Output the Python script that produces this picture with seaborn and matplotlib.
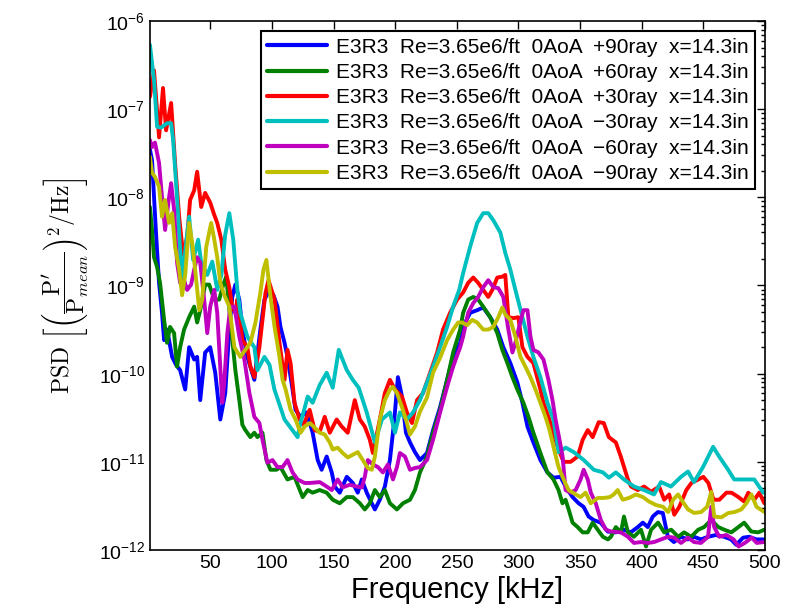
import numpy as np
import pandas as pd
import matplotlib
matplotlib.use("Agg")
import matplotlib.pyplot as plt
import seaborn as sns
from matplotlib.ticker import FixedLocator, NullFormatter, LogFormatterSciNotation

# Frequency [kHz] and log10(PSD) for each ray
f_p90 = [1, 2.7, 5.9, 8.4, 10.8, 12.5, 14.9, 19, 22.2, 25.5, 29.6, 32.8, 36.9, 39.3, 41.8, 45.8, 49.9, 54, 58.1, 62.1,
         65.4, 67.8, 70.3, 73.5, 76, 80, 85.7, 90.6, 93.9, 98, 101.2, 104.5, 106.9, 110.2, 112.6, 116.7, 119.1, 123.2,
         128.1, 133, 137.1, 140.3, 144.4, 148.5, 150.9, 155, 160.7, 165.6, 169.6, 172.9, 176.9, 181, 183.5, 187.5,
         191.6, 195.7, 199, 202.2, 205.5, 208.7, 212, 216, 220.1, 225.8, 230.7, 236.4, 242.1, 247, 252.7, 256.8, 260.8,
         266.5, 271.4, 277.1, 282.8, 287.7, 293.4, 299.1, 303.2, 307.3, 312.1, 317.8, 323.5, 328.4, 334.1, 338.2, 343.9,
         348.8, 352.8, 356.9, 361, 366.7, 372.4, 378.9, 385.4, 391.1, 396.8, 400.9, 404.9, 409, 413.1, 417.1, 421.2,
         426.1, 431.8, 437.5, 442.4, 448.1, 453.8, 460.3, 466.8, 472.5, 476.6, 482.3, 487.2, 492.9, 498.6]
lg_p90 = [-7.46, -7.58, -8.40, -8.97, -9.31, -9.62, -9.50, -9.81, -9.90, -9.96, -10.18, -9.70, -9.84, -9.81, -10.30,
          -9.76, -9.70, -9.99, -10.52, -10.22, -9.50, -9.13, -8.99, -9.16, -9.50, -9.81, -10.07, -9.50, -9.16, -9.05,
          -9.11, -9.24, -9.47, -9.65, -9.81, -10.18, -10.41, -10.49, -10.44, -10.67, -10.98, -11.09, -10.94, -11.12,
          -11.28, -11.35, -11.17, -11.24, -11.35, -11.20, -11.35, -11.47, -11.54, -11.43, -11.28, -10.98, -10.56,
          -10.04, -10.26, -10.67, -10.78, -10.89, -10.98, -10.90, -10.64, -10.38, -10.07, -9.81, -9.65, -9.42, -9.31,
          -9.28, -9.25, -9.36, -9.50, -9.70, -9.88, -10.10, -10.33, -10.60, -10.78, -10.98, -11.12, -11.18, -11.17,
          -11.28, -11.40, -11.47, -11.51, -11.62, -11.66, -11.69, -11.79, -11.80, -11.77, -11.80, -11.74, -11.69,
          -11.74, -11.62, -11.57, -11.58, -11.85, -11.91, -11.85, -11.88, -11.85, -11.88, -11.85, -11.83, -11.85,
          -11.88, -11.94, -11.86, -11.85, -11.88, -11.88]

f_p60 = [1, 2.7, 4.3, 6.8, 9.2, 12.5, 14.9, 17.3, 20.6, 23, 25.5, 28.7, 32.8, 36.9, 39.3, 41.8, 45.8, 49.1, 53.2, 57.2,
         60.5, 62.9, 67, 70.3, 73.5, 76, 78.4, 82.5, 85.7, 88.2, 92.3, 95.5, 98.8, 103.7, 106.9, 112.6, 118.3, 124.9,
         129, 133, 138.7, 144.4, 149.3, 155, 160.7, 165.6, 171.3, 175.3, 179.4, 183.5, 187.5, 191.6, 195.7, 201.4,
         206.3, 212, 216, 220.1, 225.8, 230.7, 236.4, 242.1, 247, 252.7, 255.1, 259.2, 263.3, 267.3, 271.4, 277.1,
         282.8, 286.9, 291, 295.1, 299.1, 304, 308.1, 312.1, 317.8, 323.5, 328.4, 332.5, 335.7, 338.2, 340.7, 343.9,
         348, 352.1, 356.2, 360.2, 364.3, 368.5, 372.6, 375, 379, 383.1, 385.6, 388.8, 393.7, 399.4, 403.5, 407.6,
         413.3, 418.2, 423.9, 429.6, 434.4, 440.1, 445.8, 450.6, 456.4, 462.1, 467, 472.7, 478.4, 483.1, 488.8, 494.5,
         499.4]
lg_p60 = [-8.11, -8.37, -8.68, -8.79, -8.97, -9.39, -9.65, -9.47, -9.54, -9.92, -9.70, -9.50, -9.36, -9.24, -9.42,
          -9.28, -8.99, -8.99, -9.16, -9.16, -8.99, -8.90, -9.50, -9.96, -10.30, -10.58, -10.64, -10.72, -10.67,
          -10.72, -10.67, -10.98, -11.09, -11.09, -11.06, -11.20, -11.17, -11.40, -11.32, -11.35, -11.32, -11.35,
          -11.43, -11.47, -11.40, -11.40, -11.47, -11.54, -11.47, -11.32, -11.40, -11.32, -11.47, -11.54, -11.47,
          -11.43, -11.32, -11.12, -10.94, -10.67, -10.41, -10.07, -9.76, -9.50, -9.31, -9.16, -9.13, -9.16, -9.24,
          -9.36, -9.54, -9.73, -9.88, -10.04, -10.18, -10.33, -10.49, -10.67, -10.90, -11.12, -11.20, -11.32, -11.47,
          -11.43, -11.54, -11.69, -11.74, -11.80, -11.80, -11.69, -11.77, -11.85, -11.88, -11.85, -11.74, -11.80,
          -11.62, -11.80, -11.85, -11.77, -11.96, -11.77, -11.69, -11.80, -11.77, -11.85, -11.80, -11.85, -11.77,
          -11.74, -11.66, -11.74, -11.77, -11.80, -11.74, -11.69, -11.79, -11.80, -11.77]

f_p30 = [1, 4.3, 8.4, 11.6, 14.1, 18.2, 21.4, 24.7, 27.9, 31.2, 33.6, 36.9, 39.3, 42.6, 45.8, 49.9, 53.2, 55.6, 58.9,
         62.1, 65.4, 67.8, 70.3, 71.9, 76, 80, 82.5, 85.7, 89.8, 92.3, 94.7, 97.2, 102.1, 106.1, 110.2, 112.6, 115.1,
         118.3, 122.4, 125.7, 130.6, 134.6, 138.7, 142.8, 146.9, 152.5, 156.6, 161.5, 167.2, 171.3, 175.3, 179.4,
         181.9, 187.5, 191.6, 195.7, 199.8, 205.5, 209.5, 213.6, 217.7, 222.6, 228.3, 234, 238.8, 244.5, 250.2, 255.1,
         259.2, 263.3, 267.3, 271.4, 275.5, 278.8, 282.8, 286.9, 289.3, 291.8, 295.9, 299.9, 303.2, 307.3, 312.1,
         317.8, 320.3, 326, 331.7, 336.6, 342.3, 348, 352.1, 356.2, 360.2, 365.1, 369.2, 373.3, 379, 383, 388.8,
         391.3, 396.9, 401.9, 407.6, 414.1, 418.2, 422.3, 426.4, 430.5, 436.2, 440.3, 445.9, 450, 454.1, 458.2, 463,
         468.7, 472.8, 478.5, 483.1, 486.5, 491.3, 495.4, 499.5]
lg_p30 = [-6.86, -6.56, -7.32, -6.76, -7.24, -6.93, -7.61, -8.22, -8.65, -8.45, -8.03, -7.92, -7.71, -8.11, -7.95,
          -8.06, -8.20, -8.29, -8.48, -8.82, -9.02, -9.24, -9.31, -9.16, -9.62, -9.70, -9.92, -10.04, -9.70, -9.39,
          -9.09, -8.94, -9.16, -9.65, -10.07, -9.73, -9.88, -10.33, -10.52, -10.58, -10.41, -10.64, -10.66, -10.49,
          -10.67, -10.52, -10.60, -10.67, -10.30, -10.52, -10.60, -10.75, -10.90, -10.52, -10.22, -10.07, -10.18,
          -10.26, -10.44, -10.56, -10.30, -10.22, -9.99, -9.76, -9.50, -9.31, -9.16, -9.08, -8.97, -8.91, -8.97,
          -9.05, -9.13, -9.05, -8.91, -8.90, -8.88, -9.36, -9.37, -9.36, -9.70, -9.81, -9.88, -10.18, -10.33, -10.56,
          -10.83, -11.00, -11.00, -10.94, -10.75, -10.64, -10.72, -10.55, -10.56, -10.72, -10.78, -10.94, -11.20,
          -11.28, -11.32, -11.28, -11.34, -11.28, -11.43, -11.37, -11.60, -11.51, -11.32, -11.24, -11.20, -11.17,
          -11.24, -11.43, -11.43, -11.35, -11.35, -11.40, -11.45, -11.35, -11.43, -11.35, -11.47]

f_m30 = [1, 4.3, 6.8, 10, 14.9, 18.2, 19.8, 23, 27.1, 30, 32.8, 36.1, 40.1, 42.6, 47.5, 51.6, 55.6, 59, 62, 65.4, 68.6,
         71.9, 74.3, 80, 85.7, 88.2, 93.9, 98, 102, 110.2, 120.8, 122.4, 129, 133, 138.7, 144.4, 149.3, 154.2, 160.7,
         165.6, 170.4, 176.9, 183.5, 189.2, 195.7, 199.8, 203.8, 209.5, 214.4, 220.1, 225.8, 230.7, 236.4, 242.1, 247,
         251.9, 255.1, 260.8, 266.5, 271.4, 275.5, 279.6, 285.3, 289.3, 293.4, 297.5, 303.2, 307.3, 312.1, 317.8,
         323.5, 328.4, 332.5, 338.4, 344.9, 353, 361.1, 368.5, 373.4, 379, 385.6, 393.7, 401.9, 410, 415.6, 423.7,
         431.9, 437.6, 442.4, 449.7, 457.9, 462.8, 470.1, 475, 483.1, 491.3, 498.6]
lg_m30 = [-6.27, -6.67, -7.20, -7.21, -7.16, -7.16, -7.35, -8.00, -8.97, -8.56, -8.22, -8.71, -8.48, -8.74, -8.88,
          -8.73, -9.05, -8.88, -8.43, -8.18, -8.48, -9.05, -9.31, -9.58, -9.70, -9.96, -9.81, -9.90, -10.18, -10.52,
          -10.72, -10.60, -10.26, -10.33, -10.13, -9.99, -10.16, -9.73, -9.96, -10.07, -10.16, -10.44, -10.78, -10.52,
          -10.44, -10.67, -10.44, -10.52, -10.44, -10.30, -10.10, -9.92, -9.70, -9.47, -9.24, -9.05, -8.86, -8.56,
          -8.29, -8.18, -8.18, -8.26, -8.40, -8.63, -8.82, -9.05, -9.36, -9.58, -9.81, -10.04, -10.33, -10.52, -10.89,
          -10.84, -10.89, -10.98, -11.09, -11.12, -11.18, -11.12, -11.20, -11.28, -11.32, -11.37, -11.23, -11.28,
          -11.17, -11.11, -11.23, -11.06, -10.83, -10.94, -11.09, -11.20, -11.20, -11.20, -11.35]

f_m60 = [1, 2.7, 5.1, 8.4, 10.8, 13.3, 16.5, 18.2, 20.6, 23, 25.5, 28.7, 31.2, 34.4, 36.9, 39.3, 41.8, 45, 47.5, 49.9,
         53.2, 55.6, 59.7, 61.3, 63.8, 66.2, 69.5, 73.5, 77.6, 81.7, 85.7, 89.8, 92.3, 96.3, 100.4, 104.5, 108.6,
         112.6, 116.7, 120.8, 126.5, 130.6, 138.7, 144.4, 148.5, 153.3, 157.4, 163.1, 168.8, 172.9, 175.3, 177.8,
         181.9, 186, 190, 194.1, 198.2, 201.4, 203.8, 207.9, 212, 216, 220.1, 225.8, 230.7, 236.4, 242.1, 247, 252.7,
         255.1, 259.2, 263.3, 267.3, 271.4, 275.5, 279.6, 283.6, 287.7, 291.8, 295.1, 297.5, 300, 304, 307.3, 309.7,
         312.1, 316.2, 320.3, 324.3, 327.6, 330.1, 333.3, 335.8, 338.2, 342.3, 346.4, 350.4, 352.9, 356.2, 358.7,
         362.7, 366.8, 370.9, 375, 383.1, 388.8, 393.7, 399.4, 405.1, 410, 415.7, 421.4, 426.3, 431.9, 437.6, 442.4,
         448.1, 453.8, 456.4, 458.8, 462.9, 468.6, 474.5, 478.6, 483.6, 489.3, 493.3, 499]
lg_m60 = [-7.35, -7.43, -7.38, -7.61, -8.00, -8.37, -8.00, -7.84, -8.14, -8.74, -8.97, -8.94, -9.05, -8.99, -8.82,
          -8.68, -8.74, -9.16, -9.54, -9.24, -9.05, -9.31, -10.33, -10.10, -9.54, -9.24, -9.24, -9.58, -9.84, -10.22,
          -10.49, -10.56, -10.75, -11.01, -10.98, -11.06, -11.06, -10.98, -11.12, -11.20, -11.24, -11.24, -11.23,
          -11.28, -11.32, -11.20, -11.29, -11.26, -11.28, -11.29, -11.17, -10.98, -11.03, -11.06, -11.12, -11.03,
          -11.20, -11.06, -10.90, -10.94, -11.09, -11.07, -11.06, -10.98, -10.75, -10.44, -10.15, -9.92, -9.70, -9.58,
          -9.31, -9.20, -9.13, -9.02, -8.94, -9.02, -9.03, -9.13, -9.50, -9.76, -9.65, -9.50, -9.28, -9.28, -9.58,
          -9.73, -9.76, -9.84, -10.07, -10.30, -10.52, -10.75, -10.94, -11.32, -11.35, -11.32, -11.20, -11.09, -11.20,
          -11.35, -11.47, -11.66, -11.77, -11.79, -11.80, -11.85, -11.92, -11.91, -11.92, -11.91, -11.88, -11.85,
          -11.86, -11.92, -11.86, -11.91, -11.92, -11.85, -11.51, -11.74, -11.85, -11.83, -11.88, -11.96, -11.92,
          -11.86, -11.92, -11.91]

f_m90 = [1, 2.7, 5.1, 8.4, 10.8, 13.3, 16.5, 19, 21.4, 24.7, 27.1, 29.6, 32.8, 35.3, 37.7, 41, 43.4, 46.7, 50.7, 53.2,
         55.6, 58.1, 61.3, 65.4, 69.5, 74.3, 78.4, 82.5, 86.6, 90.6, 93.1, 95.5, 98.8, 102.1, 106.1, 108.6, 111.1,
         115.1, 119.1, 123.2, 126.5, 130.6, 134.6, 138.7, 142.8, 146.9, 149.3, 153.3, 157.4, 161.5, 165.6, 169.6,
         173.7, 177.8, 181, 183.5, 187.5, 191.6, 195.7, 198.1, 201.4, 205.5, 208.7, 212, 216, 220.1, 225.8, 230.7,
         236.4, 242.1, 247, 251.1, 254.3, 258.4, 262.5, 266.5, 271.4, 275.5, 279.6, 283.6, 286.9, 289.3, 293.4, 297.5,
         301.6, 305.6, 309.7, 313.8, 317.8, 321.9, 325.2, 328.4, 332.5, 336.6, 340.7, 346.4, 350.4, 354.5, 358.6,
         364.3, 369.2, 374.1, 377.3, 380.5, 384.6, 389.6, 395.3, 401, 405.9, 411.6, 417.3, 421.4, 425.4, 429.5, 433.6,
         437.6, 442.5, 448.2, 453.1, 456.4, 458.8, 464.6, 470.3, 475.1, 480.8, 484.9, 489, 493.1, 499.6]
lg_m90 = [-7.54, -7.72, -7.77, -7.88, -8.22, -8.03, -8.29, -8.18, -8.56, -8.82, -9.11, -8.88, -8.29, -8.52, -8.82,
          -9.28, -9.16, -8.56, -8.29, -8.48, -8.68, -8.97, -9.11, -9.24, -9.70, -9.81, -9.73, -9.65, -9.42, -9.08,
          -8.82, -8.71, -9.13, -9.47, -9.81, -10.07, -10.18, -10.41, -10.52, -10.67, -10.60, -10.56, -10.61, -10.67,
          -10.69, -10.78, -10.86, -10.84, -10.90, -10.95, -10.92, -10.89, -10.98, -11.07, -11.09, -10.94, -10.52,
          -10.30, -10.18, -10.15, -10.22, -10.38, -10.52, -10.69, -10.60, -10.43, -10.27, -9.99, -9.82, -9.62, -9.50,
          -9.42, -9.42, -9.45, -9.39, -9.42, -9.50, -9.50, -9.47, -9.36, -9.25, -9.33, -9.39, -9.58, -9.81, -9.92,
          -10.04, -10.18, -10.33, -10.49, -10.64, -10.83, -11.06, -11.20, -11.32, -11.37, -11.40, -11.35, -11.47,
          -11.41, -11.41, -11.40, -11.37, -11.32, -11.43, -11.41, -11.37, -11.40, -11.45, -11.49, -11.51, -11.57,
          -11.43, -11.37, -11.46, -11.54, -11.58, -11.57, -11.51, -11.34, -11.62, -11.63, -11.58, -11.57, -11.54,
          -11.47, -11.37, -11.51, -11.57]

labels = [
    "E3R3  Re=3.65e6/ft  0AoA  +90ray  x=14.3in",
    "E3R3  Re=3.65e6/ft  0AoA  +60ray  x=14.3in",
    "E3R3  Re=3.65e6/ft  0AoA  +30ray  x=14.3in",
    "E3R3  Re=3.65e6/ft  0AoA  \u221230ray  x=14.3in",
    "E3R3  Re=3.65e6/ft  0AoA  \u221260ray  x=14.3in",
    "E3R3  Re=3.65e6/ft  0AoA  \u221290ray  x=14.3in",
]
freqs = [f_p90, f_p60, f_p30, f_m30, f_m60, f_m90]
logs = [lg_p90, lg_p60, lg_p30, lg_m30, lg_m60, lg_m90]
colors = ["#0000ff", "#008000", "#ff0000", "#00bfbf", "#bf00bf", "#bfbf00"]

frames = []
for lab, f, lg in zip(labels, freqs, logs):
    frames.append(pd.DataFrame({"freq": f, "psd": np.power(10.0, lg), "series": lab}))
df = pd.concat(frames, ignore_index=True)

sns.set_theme(style="white")
plt.rcParams["font.family"] = ["Liberation Sans", "DejaVu Sans"]
plt.rcParams["mathtext.fontset"] = "cm"
for key in ["text.color", "axes.labelcolor", "xtick.color", "ytick.color", "axes.edgecolor"]:
    plt.rcParams[key] = "black"

fig = plt.figure(figsize=(7.85, 6.15), dpi=100)
ax = fig.add_axes([0.191, 0.1057, 0.7835, 0.8602])

sns.lineplot(data=df, x="freq", y="psd", hue="series", hue_order=labels, palette=colors,
             sort=False, estimator=None, linewidth=2.8, ax=ax)

ax.set_yscale("log")
ax.set_xlim(1, 500)
ax.set_ylim(1e-12, 1e-6)
ax.set_xticks(np.arange(50, 501, 50))

decades = np.arange(-12, -5)
ax.yaxis.set_major_locator(FixedLocator(10.0 ** decades))
ax.yaxis.set_major_formatter(LogFormatterSciNotation())
minor = [m * 10.0 ** d for d in decades[:-1] for m in range(2, 10)]
ax.yaxis.set_minor_locator(FixedLocator(minor))
ax.yaxis.set_minor_formatter(NullFormatter())

ax.tick_params(which="both", direction="in", top=True, right=True, labelsize=14, width=1.0)
ax.tick_params(which="major", length=6)
ax.tick_params(which="minor", length=3)
for sp in ax.spines.values():
    sp.set_linewidth(1.2)
    sp.set_color("black")

ax.set_xlabel("Frequency [kHz]", fontsize=21, labelpad=3)
ax.set_ylabel(r"$\mathrm{PSD}\ \left[\left(\dfrac{\mathrm{P}^{\prime}}{\mathrm{P}_{mean}}\right)^{2}"
              r"/\mathrm{Hz}\right]$", fontsize=17)
ax.yaxis.set_label_coords(-0.095, 0.5)

leg = ax.legend(loc="upper right", fontsize=15, frameon=True, fancybox=False, framealpha=1,
                edgecolor="black", handlelength=2.9, labelspacing=0.3, borderaxespad=0.5,
                handletextpad=0.4, borderpad=0.3)
leg.get_frame().set_linewidth(1.5)
for h in leg.get_lines():
    h.set_linewidth(3.0)

fig.savefig("out.png", dpi=100)
